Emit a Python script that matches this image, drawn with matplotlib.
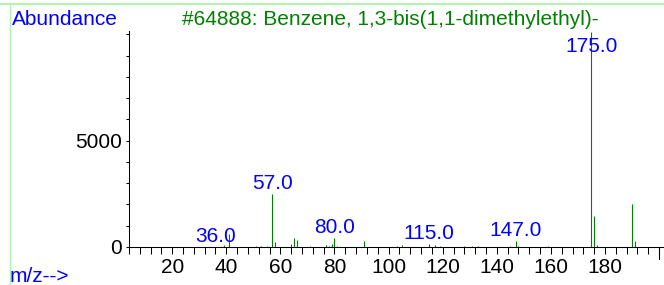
import matplotlib
matplotlib.use("Agg")
import matplotlib.pyplot as plt
from matplotlib.lines import Line2D
from matplotlib.ticker import MultipleLocator

plt.rcParams["font.family"] = ["Liberation Sans", "DejaVu Sans"]

GREEN = "#008000"
BLUE = "#0000ff"
FRAME = "#b4f2b4"

# Espectro de masas (m/z, abundancia)
mz = [36, 39, 41, 51, 53, 55, 57, 58, 64, 65, 66, 71, 77, 78, 79, 80, 81, 91,
      103, 105, 115, 117, 119, 128, 131, 133, 145, 147, 148, 159,
      175, 176, 177, 190, 191]
abundance = [20, 100, 610, 50, 50, 60, 2490, 230, 150, 440, 330, 50, 100, 60, 150, 410, 50, 300,
             30, 80, 140, 110, 50, 40, 40, 40, 30, 280, 40, 50,
             10100, 1460, 80, 2030, 280]

# Picos rotulados
label_mz = [36, 57, 80, 115, 147, 175]

fig = plt.figure(figsize=(6.64, 2.85), dpi=100)
fig.patch.set_facecolor("#ffffff")
ax = fig.add_axes([128.9 / 664, 38 / 285, 534 / 664, 216 / 285])

ax.vlines(mz, 0, abundance, color=GREEN, lw=0.8)

ax.set_xlim(4, 201.4)
ax.set_ylim(0, 10160)
for s in ("top", "right"):
    ax.spines[s].set_visible(False)
for s in ("left", "bottom"):
    ax.spines[s].set_linewidth(0.75)

ax.set_xticks(range(20, 181, 20))
ax.xaxis.set_minor_locator(MultipleLocator(4))
ax.set_yticks([0, 5000])
ax.yaxis.set_minor_locator(MultipleLocator(1000))
ax.tick_params(axis="x", which="both", length=5, width=0.75, labelsize=15, pad=3)
ax.tick_params(axis="y", which="both", length=2.4, width=0.75, labelsize=15, pad=2.5)

# tick largo al final del eje
ax.plot([200, 200], [0, -12 / 216], transform=ax.get_xaxis_transform(),
        clip_on=False, color="k", lw=0.75)

# rótulos de picos (el de 175 queda dentro del área)
for m in label_mz:
    h = abundance[mz.index(m)]
    ax.annotate(f"{m:.1f}", (m, min(h, 8940)), xytext=(0, 3.6),
                textcoords="offset points", ha="center", va="baseline",
                color=BLUE, fontsize=15)

fig.text(11.7 / 664, 260 / 285, "Abundance", color=BLUE, fontsize=15,
         ha="left", va="baseline")
fig.text(182 / 664, 260 / 285, "#64888: Benzene, 1,3-bis(1,1-dimethylethyl)-",
         color=GREEN, fontsize=15, ha="left", va="baseline")
fig.text(10 / 664, 3 / 285, "m/z-->", color=BLUE, fontsize=15,
         ha="left", va="baseline")

# marco verde claro
fig.add_artist(Line2D([0, 1], [1 - 4.3 / 285] * 2, color=FRAME, lw=1.5,
                      transform=fig.transFigure))
fig.add_artist(Line2D([9.5 / 664] * 2, [0, 1 - 4.3 / 285], color=FRAME, lw=1,
                      transform=fig.transFigure))

fig.savefig("out.png", dpi=100, facecolor="#ffffff")
plt.close(fig)
